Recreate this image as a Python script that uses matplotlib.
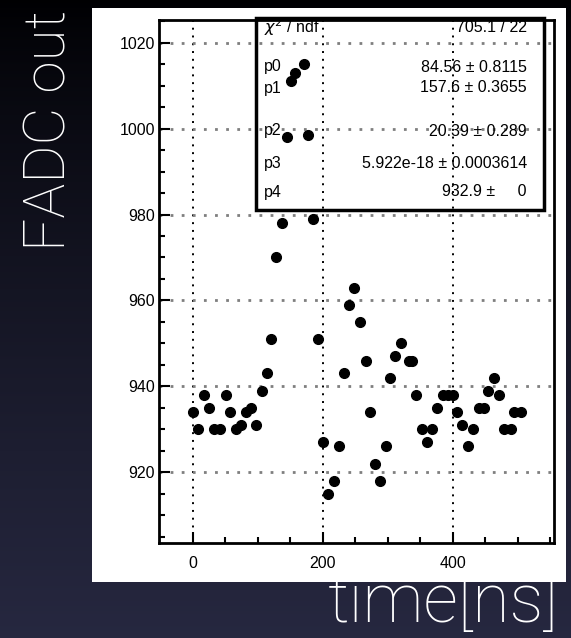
import numpy as np
import matplotlib.pyplot as plt
from matplotlib.patches import Rectangle

# data
t_ns = [0, 8, 18, 25, 33, 42, 51, 58, 67, 75, 82, 90, 98, 106, 115, 120, 129, 138, 145, 151,
        158, 171, 177, 185, 193, 201, 209, 217, 225, 233, 241, 248, 257, 266, 273, 281, 289, 297, 304, 311,
        320, 333, 338, 344, 353, 361, 368, 376, 385, 393, 401, 407, 415, 424, 432, 440, 448, 455, 463, 472,
        479, 490, 495, 505]
adc = [934, 930, 938, 935, 930, 930, 938, 934, 930, 931, 934, 935, 931, 939, 943, 951, 970, 978, 998, 1011,
       1013, 1015, 998.5, 979, 951, 927, 915, 918, 926, 943, 959, 963, 955, 946, 934, 922, 918, 926, 942, 947,
       950, 946, 946, 938, 930, 927, 930, 935, 938, 938, 938, 934, 931, 926, 930, 935, 935, 939, 942, 938,
       930, 930, 934, 934]

stat_names = ['$\\chi^2$ / ndf', 'p0', 'p1', 'p2', 'p3', 'p4']
stat_values = ['705.1 / 22', '84.56 \u00b1 0.8115', '157.6 \u00b1 0.3655', '20.39 \u00b1 0.289',
               '5.922e-18 \u00b1 0.0003614', '932.9 \u00b1     0']
stat_rows_px = [27, 67, 88, 131, 163, 192]  # row positions (pixels from top)

W, H = 571, 638
fig = plt.figure(figsize=(W / 100, H / 100), dpi=100)

def fx(x):
    return x / W

def fy(y):
    return 1 - y / H

# dark gradient background
bg = fig.add_axes([0, 0, 1, 1])
bg.set_zorder(-2)
grad = np.linspace(0, 1, 256) ** 0.8
c_top = np.array([0.0, 0.0, 0.01])
c_bot = np.array([0.15, 0.155, 0.25])
img = c_top[None, None, :] + (c_bot - c_top)[None, None, :] * grad[:, None, None]
bg.imshow(np.repeat(img, 2, axis=1), aspect='auto', extent=[0, 1, 0, 1])
bg.axis('off')

# white panel of the ROOT canvas
fig.add_artist(Rectangle((fx(92), fy(582)), fx(566) - fx(92), fy(8) - fy(582),
                         transform=fig.transFigure, facecolor='white', edgecolor='none', zorder=-1))

ax = fig.add_axes([fx(159), fy(543), fx(554) - fx(159), fy(20) - fy(543)])
ax.set_facecolor('none')
ax.set_xlim(-51.7, 556)
ax.set_ylim(903.5, 1025.3)

for x in [0, 200, 400]:
    ax.axvline(x, color='black', lw=1.4, ls=(0, (1, 3)), zorder=1)
for y in [920, 940, 960, 980, 1000, 1020]:
    ax.axhline(y, color='#7f7f7f', lw=2.0, ls=(0, (1, 3)), zorder=1)

ax.plot(t_ns, adc, 'o', color='black', ms=7, zorder=5)

ax.set_xticks([0, 200, 400])
ax.set_xticks(np.arange(0, 551, 50), minor=True)
ax.set_yticks([920, 940, 960, 980, 1000, 1020])
ax.set_yticks(np.arange(905, 1026, 5), minor=True)
ax.tick_params(which='both', direction='in', color='black', width=1.5)
ax.tick_params(which='major', length=8)
ax.tick_params(which='minor', length=4)
ax.tick_params(axis='x', pad=9)
ax.tick_params(axis='y', pad=3)
for lab in ax.get_xticklabels() + ax.get_yticklabels():
    lab.set_family('Liberation Sans')
    lab.set_fontsize(11.5)
for sp in ax.spines.values():
    sp.set_linewidth(2)

# stats box (no fill, points drawn on top)
ax.add_patch(Rectangle((fx(256), fy(210)), fx(544) - fx(256), fy(18) - fy(210),
                       transform=fig.transFigure, facecolor='none', edgecolor='black',
                       lw=2.5, zorder=3, clip_on=False))
for name, val, ypx in zip(stat_names, stat_values, stat_rows_px):
    ax.text(fx(264), fy(ypx), name, ha='left', va='center', fontsize=11.5,
            family='Liberation Sans', zorder=3, transform=fig.transFigure)
    ax.text(fx(527), fy(ypx), val, ha='right', va='center', fontsize=11.5,
            family='Liberation Sans', zorder=3, transform=fig.transFigure)

# slide labels
fig.text(fx(50), fy(130), 'FADC out', rotation=90, ha='center', va='center', color='white',
         fontsize=42, family=['Roboto', 'DejaVu Sans'], fontweight='light')
fig.text(fx(559), fy(622), 'time[ns]', ha='right', va='baseline', color='white',
         fontsize=49, family=['Roboto', 'DejaVu Sans'], fontweight='light')

fig.savefig('out.png', dpi=100)
